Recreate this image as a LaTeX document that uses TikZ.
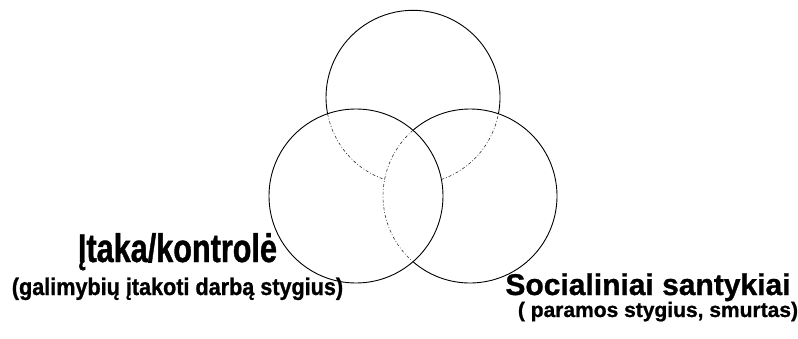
\documentclass[tikz,border=0pt]{standalone}
\usepackage{fontspec}
\newfontfamily\lefttitle{Liberation Sans}[FakeStretch=0.765, FakeBold=1]
\newfontfamily\leftsub{Liberation Sans}[FakeStretch=0.9, FakeBold=1]
\newfontfamily\rightfont{Liberation Sans}[FakeBold=1]
\begin{document}
\begin{tikzpicture}[x=1pt, y=1pt,
        ring/.style={color = black, line width=0.9pt},
        hidden/.style={color = black!80, line width=0.6pt, dash pattern=on 3pt off 2pt on 0.8pt off 2pt},
        every node/.style={inner sep=0pt, anchor=base}]
        \useasboundingbox (0,0) rectangle (798,338);
        \coordinate (cLeft) at (356,142);
        \coordinate (cRight) at (470,142);
        \coordinate (cTop) at (413,240.7);
        % left circle
        \draw[ring] (cLeft) circle (87);
        % right circle
        \draw[ring] (cRight) ++(-130.94:87) arc[start angle=-130.94, end angle=130.94, radius=87];
        \draw[hidden] (cRight) ++(130.94:87) arc[start angle=130.94, end angle=229.06, radius=87];
        % top circle
        \draw[ring] (cTop) ++(-10.94:87) arc[start angle=-10.94, end angle=190.94, radius=87];
        \draw[hidden] (cTop) ++(190.94:87) arc[start angle=190.94, end angle=250.94, radius=87];
        \draw[hidden] (cTop) ++(289.06:87) arc[start angle=289.06, end angle=349.06, radius=87];
        % labels
        \node (influence) at (177.5,76) {\lefttitle\bfseries\fontsize{40}{44}\selectfont Įtaka/kontrolė};
        \node (influenceSub) at (177.5,43) {\leftsub\bfseries\fontsize{24}{28}\selectfont (galimybių įtakoti darbą stygius)};
        \node (social) at (648,43) {\rightfont\bfseries\fontsize{30}{34}\selectfont Socialiniai santykiai};
        \node (socialSub) at (658,21) {\rightfont\bfseries\fontsize{21}{25}\selectfont ( paramos stygius, smurtas)};
        \end{tikzpicture}
\end{document}
